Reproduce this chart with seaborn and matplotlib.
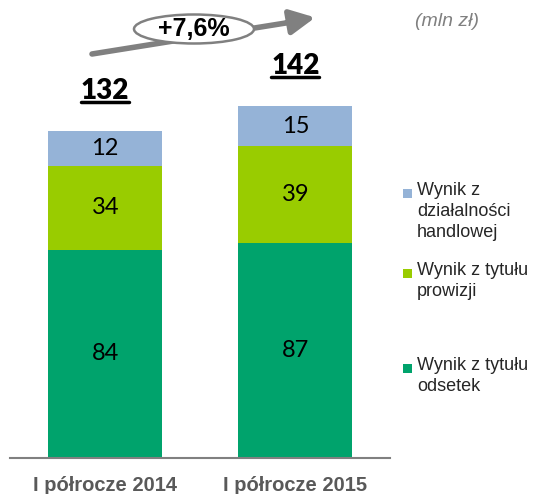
import matplotlib
matplotlib.use("Agg")
import matplotlib.pyplot as plt
import seaborn as sns
import pandas as pd
from matplotlib.patches import Ellipse, Rectangle

# data (mln zł)
periods = ["I półrocze 2014", "I półrocze 2015"]
odsetki = [84, 87]
prowizje = [34, 39]
handel = [12, 15]
totals = [132, 142]
change_label = "+7,6%"
series_names = ["Wynik z\ndziałalności\nhandlowej", "Wynik z tytułu\nprowizji", "Wynik z tytułu\nodsetek"]
colors = ["#95B3D7", "#99CC00", "#00A36C"]

sns.set_style("white")
plt.rcParams["font.family"] = ["Liberation Sans", "DejaVu Sans"]
num_font = ["Lato", "DejaVu Sans"]

df = pd.DataFrame({"okres": periods, "odsetki": odsetki, "prowizje": prowizje,
                   "handel": handel, "suma": totals})
df["do_prowizji"] = df["odsetki"] + df["prowizje"]

fig = plt.figure(figsize=(5.34, 4.94), dpi=100)
ax = fig.add_axes([0.019, 0.073, 0.712, 0.927])

# stacked bars: draw cumulative totals from top down
for col, c in zip(["suma", "do_prowizji", "odsetki"], colors):
    sns.barplot(data=df, x="okres", y=col, color=c, width=0.6, ax=ax, saturation=1, edgecolor="none")

ax.set_ylim(0, 185)
ax.set_xlim(-0.5, 1.5)
ax.set_xlabel("")
ax.set_ylabel("")
ax.set_yticks([])
for s in ["top", "left", "right"]:
    ax.spines[s].set_visible(False)
ax.spines["bottom"].set_color("#808080")
ax.spines["bottom"].set_linewidth(1.5)
ax.tick_params(axis="x", length=0, pad=13)
for lbl in ax.get_xticklabels():
    lbl.set_fontsize(14.5)
    lbl.set_fontweight("bold")
    lbl.set_color("#595959")

# segment labels
total_texts = []
for i, row in df.iterrows():
    ax.text(i, row["odsetki"] / 2, str(row["odsetki"]), ha="center", va="center", fontsize=17,
            family=num_font, color="black")
    ax.text(i, row["odsetki"] + row["prowizje"] / 2, str(row["prowizje"]), ha="center", va="center",
            fontsize=17, family=num_font, color="black")
    ax.text(i, row["do_prowizji"] + (row["suma"] - row["do_prowizji"]) / 2, str(row["handel"]),
            ha="center", va="center", fontsize=17, family=num_font, color="black")
    total_texts.append(ax.text(i, row["suma"] + 11, str(row["suma"]), ha="center", va="bottom",
                               fontsize=20, fontweight="heavy", family=num_font, color="black"))

# growth arrow
fig_h = 494.0
ax_f = fig.transFigure
fig.add_artist(plt.Line2D([92 / 534, 292 / 534], [1 - 54 / fig_h, 1 - 22 / fig_h], color="#808080",
                          lw=4, transform=ax_f, zorder=1))
ax.annotate("", xy=(318 / 534, 1 - 17 / fig_h), xytext=(284 / 534, 1 - 23 / fig_h), xycoords=ax_f, textcoords=ax_f,
            arrowprops=dict(arrowstyle="-|>,head_length=1.5,head_width=0.75", color="#808080", lw=4))
fig.add_artist(Ellipse((194 / 534, 1 - 29 / fig_h), 120 / 534, 29 / fig_h, transform=ax_f,
                       facecolor="white", edgecolor="#808080", lw=1.8, zorder=5))
fig.text(194 / 534, 1 - 29 / fig_h, change_label, ha="center", va="center", fontsize=18, fontweight="bold",
         zorder=6, color="black")

fig.text(447 / 534, 1 - 22 / fig_h, "(mln zł)", ha="center", va="center", fontsize=14, style="italic", color="#808080")

# legend
legend_y = [194, 274, 369]
for name, c, y in zip(series_names, colors, legend_y):
    fig.add_artist(Rectangle((403 / 534, 1 - (y + 4) / fig_h), 9 / 534, 9 / fig_h, transform=ax_f,
                             facecolor=c, edgecolor="none"))
    fig.text(417 / 534, 1 - (y - 12) / fig_h, name, ha="left", va="top", fontsize=13, color="#262626",
             linespacing=1.3)

# underline totals
fig.canvas.draw()
r = fig.canvas.get_renderer()
for t in total_texts:
    bb = t.get_window_extent(r).transformed(fig.transFigure.inverted())
    fig.add_artist(plt.Line2D([bb.x0, bb.x1], [bb.y0 + 2 / fig_h, bb.y0 + 2 / fig_h],
                              color="black", lw=2.5, transform=ax_f))

fig.savefig("out.png", dpi=100)
